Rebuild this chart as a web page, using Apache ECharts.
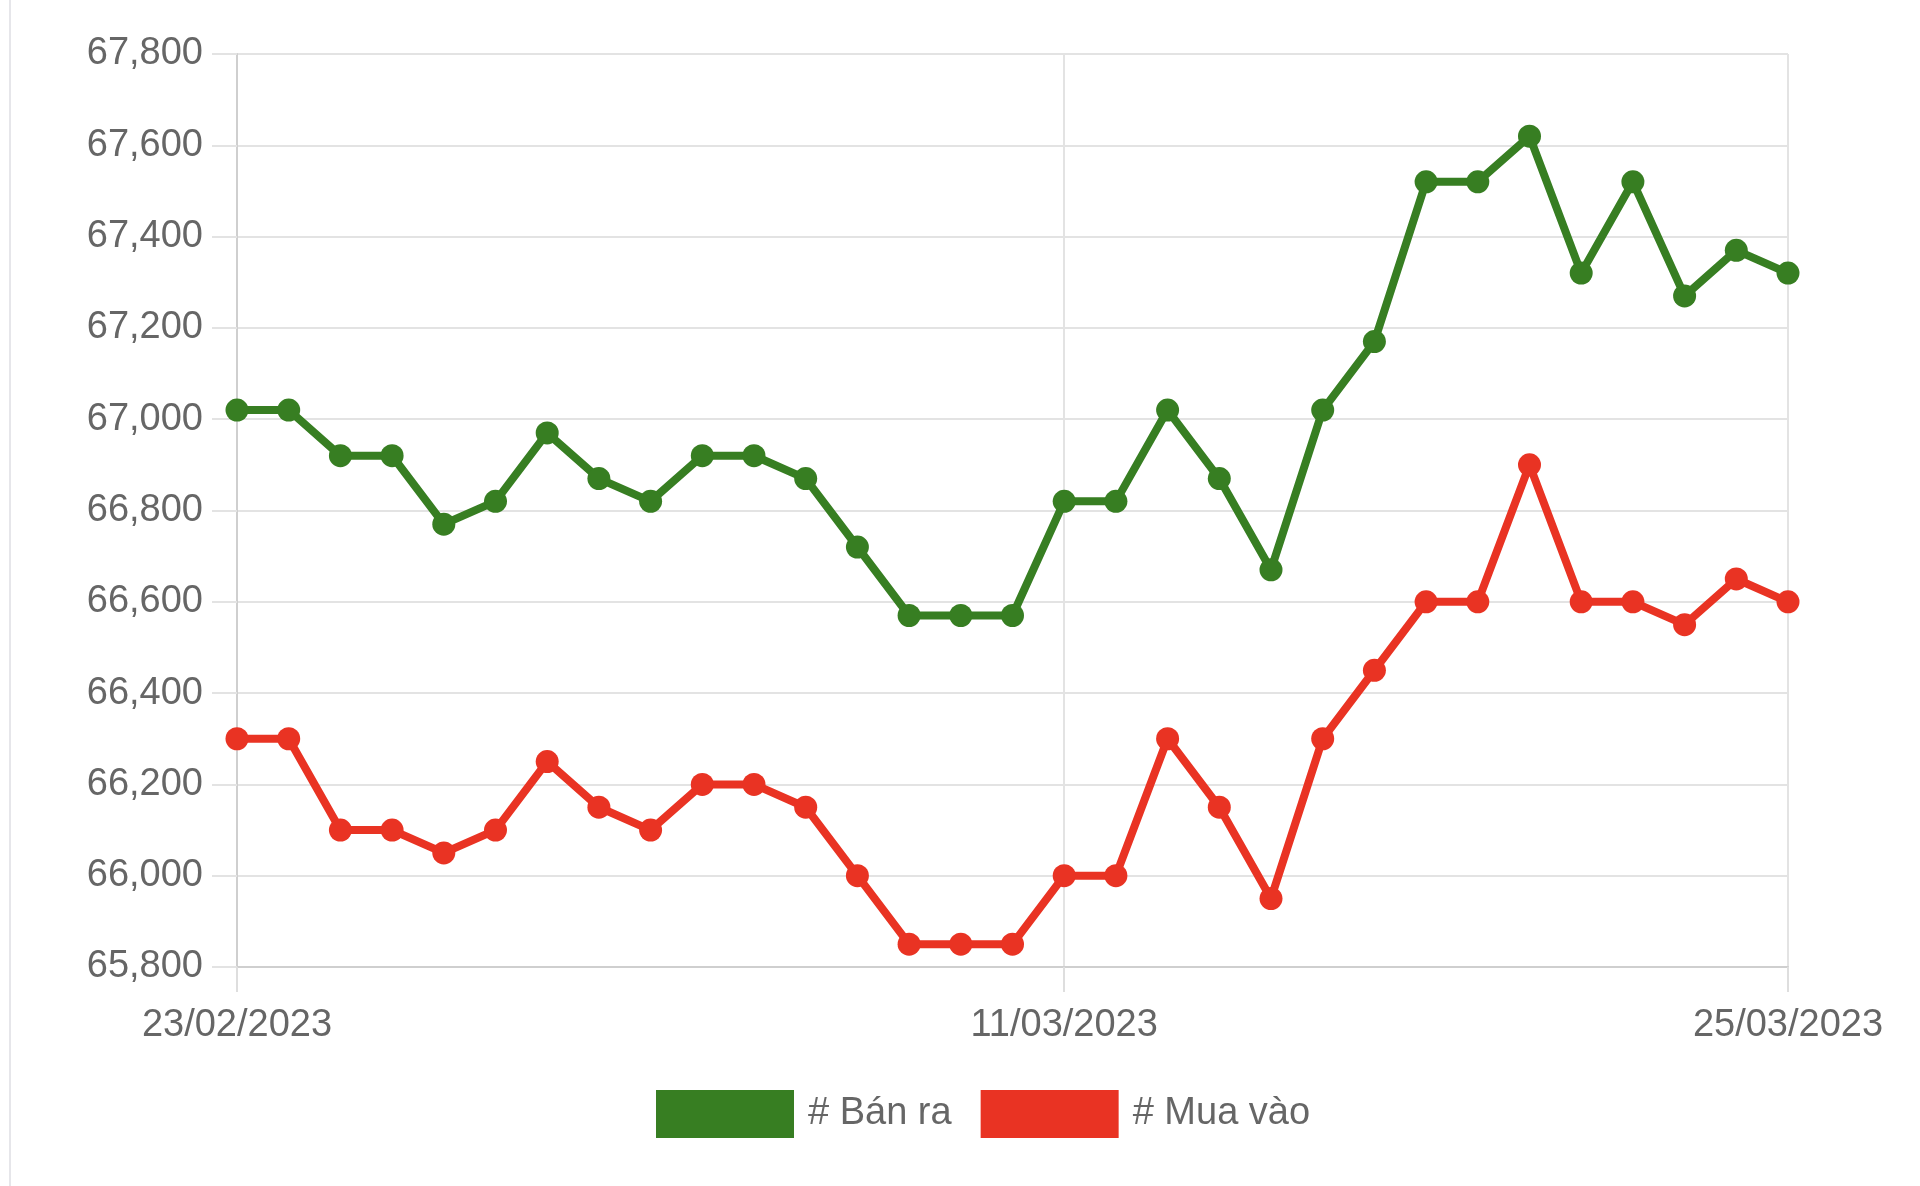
<!DOCTYPE html>
<html><head><meta charset="utf-8">
<script src="https://cdn.jsdelivr.net/npm/echarts@6/dist/echarts.min.js"></script>
<style>
html,body{margin:0;padding:0;background:#fff;}
#frame{position:absolute;left:9px;top:0;width:0;height:1186px;border-left:2px solid #e6e6ea;}
#c{width:1920px;height:1186px;}
</style></head>
<body><div id="frame"></div><div id="c"></div>
<script>
const dates = ["23/02/2023","24/02/2023","25/02/2023","26/02/2023","27/02/2023","28/02/2023",
"01/03/2023","02/03/2023","03/03/2023","04/03/2023","05/03/2023","06/03/2023","07/03/2023","08/03/2023",
"09/03/2023","10/03/2023","11/03/2023","12/03/2023","13/03/2023","14/03/2023","15/03/2023","16/03/2023",
"17/03/2023","18/03/2023","19/03/2023","20/03/2023","21/03/2023","22/03/2023","23/03/2023","24/03/2023","25/03/2023"];
const banRa = [67020,67020,66920,66920,66770,66820,66970,66870,66820,66920,66920,66870,66720,66570,66570,66570,
66820,66820,67020,66870,66670,67020,67170,67520,67520,67620,67320,67520,67270,67370,67320];
const muaVao = [66300,66300,66100,66100,66050,66100,66250,66150,66100,66200,66200,66150,66000,65850,65850,65850,
66000,66000,66300,66150,65950,66300,66450,66600,66600,66900,66600,66600,66550,66650,66600];
const shownLabels = ["23/02/2023","11/03/2023","25/03/2023"];
const seriesNames = ["# Bán ra","# Mua vào"];

const FONT = "Liberation Sans";
const show = (i, v) => shownLabels.indexOf(dates[i]) >= 0;
const chart = echarts.init(document.getElementById('c'));
chart.setOption({
  animation:false,
  textStyle:{fontFamily:FONT},
  grid:{left:237,right:132,top:54,bottom:219,containLabel:false},
  legend:{
    left:651, top:1085, itemWidth:138, itemHeight:48, itemGap:29, icon:'rect',
    textStyle:{fontSize:38,color:'#666',fontFamily:FONT,padding:[0,0,0,9]},
    data:seriesNames
  },
  xAxis:{
    type:'category', data:dates, boundaryGap:false,
    axisLine:{lineStyle:{color:'#cfcfcf',width:2}},
    axisTick:{show:true,length:25,interval:show,lineStyle:{color:'#dedede',width:2}},
    axisLabel:{interval:show,fontSize:38,color:'#666',margin:40,fontFamily:FONT},
    splitLine:{show:true,interval:show,lineStyle:{color:'#e3e3e3',width:2}}
  },
  yAxis:{
    type:'value', min:65800, max:67800, interval:200,
    axisLine:{show:true,lineStyle:{color:'#cfcfcf',width:2}},
    axisTick:{show:true,length:25,lineStyle:{color:'#e3e3e3',width:2}},
    axisLabel:{fontSize:38,color:'#666',margin:34,fontFamily:FONT,formatter:v=>v.toLocaleString('en-US')},
    splitLine:{show:true,lineStyle:{color:'#e3e3e3',width:2}}
  },
  series:[
    {name:seriesNames[0],type:'line',data:banRa,symbol:'circle',symbolSize:23,
     lineStyle:{width:8,color:'#377e22'},itemStyle:{color:'#377e22'}},
    {name:seriesNames[1],type:'line',data:muaVao,symbol:'circle',symbolSize:23,
     lineStyle:{width:8,color:'#e93323'},itemStyle:{color:'#e93323'}}
  ]
});
</script></body></html>
